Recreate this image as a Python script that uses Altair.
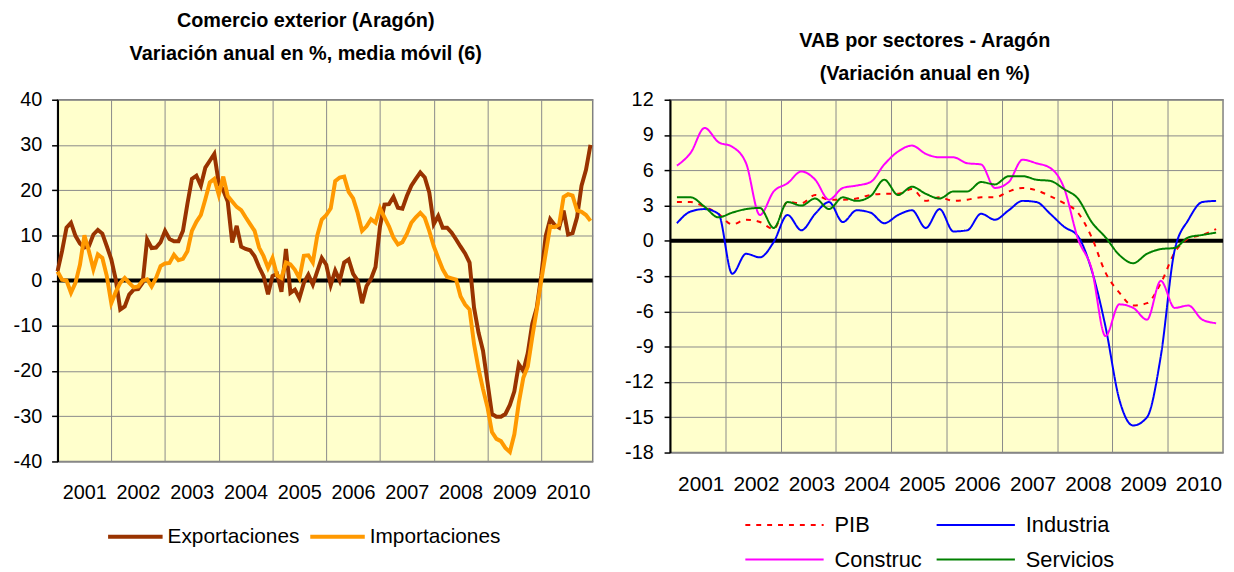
import altair as alt
import pandas as pd

# ---------------- Left chart: monthly foreign trade ----------------
exportaciones = [
    2.1, 6.5, 11.7, 12.8, 9.9, 8.2, 7.3, 7.6, 10.2, 11.2, 10.4, 7.6,
    4.7, 0.2, -6.4, -5.7, -3.1, -2.0, -1.9, -0.5, 9.1, 7.2, 7.3, 8.5,
    11.0, 9.2, 8.7, 8.7, 11.0, 17.0, 22.5, 23.2, 21.0, 25.0, 26.5, 28.0,
    21.5, 20.0, 17.5, 8.4, 12.1, 7.5, 7.0, 6.7, 5.4, 3.0, 1.0, -3.0,
    1.0, 1.5, -2.5, 7.0, -2.7, -2.0, -3.9, -0.5, 1.3, -0.9, 2.1, 5.0,
    3.5, -1.0, 2.2, 0.0, 4.0, 4.7, 1.5, 0.0, -5.0, -1.2, 0.4, 3.0,
    12.0, 16.8, 16.9, 18.5, 16.1, 15.9, 18.7, 21.0, 22.5, 23.9, 22.8, 19.5,
    12.5, 14.3, 11.7, 11.7, 10.6, 9.1, 7.5, 6.0, 4.0, -6.0, -11.5, -15.5,
    -22.5, -29.5, -30.1, -30.1, -29.5, -27.5, -24.5, -18.5, -20.0, -16.0, -9.5, -6.0,
    1.0, 9.9, 13.6, 12.3, 11.7, 15.5, 10.2, 10.5, 14.0, 21.0, 24.5, 30.0,
]
importaciones = [
    2.0, 0.2, 0.0, -2.7, -0.5, 3.5, 10.0, 6.5, 2.5, 5.8, 5.0, 1.0,
    -5.0, -2.5, -0.5, 0.6, -0.5, -1.5, -1.3, 0.0, 0.3, -1.3, 0.6, 3.2,
    3.8, 3.9, 5.7, 4.5, 4.8, 6.5, 11.0, 13.0, 14.5, 18.0, 21.7, 22.5,
    19.0, 23.0, 18.7, 17.5, 16.3, 15.6, 14.0, 12.5, 11.0, 7.3, 5.4, 2.8,
    5.0, 1.2, 0.6, 4.0, 3.6, 2.4, 0.5, 5.5, 5.6, 4.0, 10.0, 13.5,
    14.5, 16.0, 22.0, 22.8, 23.0, 19.6, 18.2, 15.0, 11.0, 12.0, 13.6, 12.8,
    16.0, 14.0, 12.0, 9.5, 8.0, 8.5, 10.3, 12.8, 14.0, 15.0, 13.9, 11.0,
    7.6, 5.0, 2.5, 0.8, 0.5, 0.2, -3.5, -5.3, -6.4, -14.0, -19.5, -24.0,
    -28.0, -33.5, -35.0, -35.5, -37.0, -37.9, -34.0, -27.0, -21.5, -19.0, -12.5, -6.5,
    0.0, 6.0, 12.0, 11.8, 12.4, 18.5, 19.1, 18.8, 15.5, 15.2, 14.5, 13.2,
]
serie_izq = ["Exportaciones", "Importaciones"]
colores_izq = ["#993300", "#FF9900"]

rows = []
for name, vals in zip(serie_izq, [exportaciones, importaciones]):
    for i, v in enumerate(vals):
        rows.append({"mes": i, "valor": v, "serie": name})
df_left = pd.DataFrame(rows)

# ---------------- Right chart: quarterly GVA ----------------
pib = [3.3, 3.3, 2.9, 2.3, 1.4, 1.8, 1.6, 1.0, 3.3, 3.2, 3.9, 3.5, 3.5, 3.6, 3.9, 4.0, 4.0, 4.4, 3.4,
       3.7, 3.4, 3.5, 3.7, 3.7, 4.2, 4.5, 4.3, 3.8, 3.2, 2.4, 0.3, -2.7, -4.4, -5.5, -5.3, -3.6, -1.0,
       0.2, 0.5, 1.0]
industria = [1.5, 2.5, 2.7, 2.3, -2.8, -1.1, -1.4, -0.1, 2.2, 0.9, 2.3, 3.3, 1.6, 2.6, 2.4, 1.5, 2.2,
             2.6, 1.1, 2.7, 0.8, 0.9, 2.3, 1.8, 2.6, 3.4, 3.3, 2.3, 1.2, 0.4, -2.5, -7.3, -13.5, -15.7,
             -15.0, -9.8, -0.8, 1.8, 3.3, 3.4]
construc = [6.4, 7.5, 9.6, 8.4, 8.0, 6.6, 2.2, 4.2, 4.9, 5.9, 5.2, 3.5, 4.5, 4.7, 5.0, 6.5, 7.6, 8.1,
            7.4, 7.1, 7.1, 6.6, 6.5, 4.5, 5.0, 6.9, 6.6, 6.2, 4.5, 0.2, -2.4, -8.1, -5.4, -5.7, -6.7,
            -3.4, -5.7, -5.5, -6.7, -7.0]
servicios = [3.7, 3.7, 2.9, 2.0, 2.4, 2.7, 2.8, 1.1, 3.3, 3.0, 3.6, 2.7, 3.7, 3.4, 3.8, 5.2, 3.9, 4.6,
             4.0, 3.6, 4.2, 4.2, 5.0, 4.8, 5.5, 5.5, 5.2, 5.1, 4.4, 3.6, 1.6, 0.3, -1.2, -1.9, -1.1,
             -0.7, -0.6, 0.3, 0.5, 0.7]
serie_der = ["PIB", "Industria", "Construc", "Servicios"]
colores_der = ["#FF0000", "#0000FF", "#FF00FF", "#008000"]
dashes_der = [[5, 6], [1, 0], [1, 0], [1, 0]]

rows = []
for name, vals in zip(serie_der, [pib, industria, construc, servicios]):
    for q, v in enumerate(vals):
        rows.append({"trim": q + 0.5, "valor": v, "serie": name})
df_right = pd.DataFrame(rows)

FONT = "Liberation Sans"
GRID = "#8a8a8a"

# ---------------- Left chart ----------------
x_left = alt.X(
    "mes:Q",
    scale=alt.Scale(domain=[0, 119.5], nice=False, zero=False),
    axis=alt.Axis(
        values=list(range(0, 120, 12)),
        labelExpr="datum.value < 119 ? '' + (2001 + datum.value / 12) : ''",
        labelOffset=27, labelPadding=21, labelFontSize=20, ticks=False,
        grid=True, gridColor=GRID, domainColor=GRID, title=None, labelFlush=False,
    ),
)
y_left_axis = alt.Axis(
    values=list(range(-40, 41, 10)), labelExpr="'' + datum.value", grid=True, gridColor=GRID,
    domainColor="black", domainWidth=2, tickColor="black", tickSize=6, tickWidth=1.5,
    labelPadding=10, labelFontSize=20, title=None,
)
zero_left = alt.Chart(pd.DataFrame({"cero": [0]})).mark_rule(color="black", strokeWidth=4).encode(
    y=alt.Y("cero:Q", scale=alt.Scale(domain=[-40, 40], nice=False), axis=y_left_axis)
)
lines_left = alt.Chart(df_left).mark_line(strokeWidth=4).encode(
    x=x_left,
    y=alt.Y("valor:Q", scale=alt.Scale(domain=[-40, 40], nice=False), axis=y_left_axis),
    color=alt.Color(
        "serie:N",
        scale=alt.Scale(domain=serie_izq, range=colores_izq),
        legend=alt.Legend(
            orient="none", legendX=49, legendY=430, direction="horizontal", columns=2,
            symbolType="stroke", symbolSize=3025, symbolStrokeWidth=4, clipHeight=22,
            labelFontSize=21, labelFont=FONT, labelColor="black", labelOffset=3,
            columnPadding=8, title=None,
        ),
    ),
)
left = alt.layer(zero_left, lines_left).properties(
    width=540, height=365,
    title=alt.TitleParams(
        ["Comercio exterior (Aragón)", "Variación anual en %, media móvil (6)"],
        fontSize=20, font=FONT, fontWeight="bold", color="black",
        frame="bounds", anchor="middle", lineHeight=33, offset=26,
    ),
)

# ---------------- Right chart ----------------
x_right = alt.X(
    "trim:Q",
    scale=alt.Scale(domain=[0, 40], nice=False, zero=False),
    axis=alt.Axis(
        values=list(range(0, 40, 4)),
        labelExpr="'' + (2001 + datum.value / 4)",
        labelOffset=31, labelPadding=21, labelFontSize=21, ticks=False,
        grid=True, gridColor=GRID, domainColor=GRID, title=None, labelFlush=False,
    ),
)
y_right_axis = alt.Axis(
    values=list(range(-18, 13, 3)), labelExpr="'' + datum.value", grid=True, gridColor=GRID,
    domainColor="black", domainWidth=2, tickColor="black", tickSize=6, tickWidth=1.5,
    labelPadding=11, labelFontSize=20, title=None,
)
leg_right = alt.Legend(
    orient="none", legendX=75, legendY=418, direction="horizontal", columns=2,
    symbolType="stroke", symbolSize=6241, symbolStrokeWidth=2, clipHeight=22,
    labelFontSize=22, labelFont=FONT, labelColor="black", labelOffset=10,
    columnPadding=13, rowPadding=13, title=None,
)
zero_right = alt.Chart(pd.DataFrame({"cero": [0]})).mark_rule(color="black", strokeWidth=4).encode(
    y=alt.Y("cero:Q", scale=alt.Scale(domain=[-18, 12], nice=False), axis=y_right_axis)
)
lines_right = alt.Chart(df_right).mark_line(strokeWidth=2, interpolate="monotone").encode(
    x=x_right,
    y=alt.Y("valor:Q", scale=alt.Scale(domain=[-18, 12], nice=False), axis=y_right_axis),
    color=alt.Color("serie:N", scale=alt.Scale(domain=serie_der, range=colores_der), legend=leg_right),
    strokeDash=alt.StrokeDash("serie:N", scale=alt.Scale(domain=serie_der, range=dashes_der), legend=leg_right),
)
right = alt.layer(zero_right, lines_right).properties(
    width=558, height=356,
    title=alt.TitleParams(
        ["VAB por sectores - Aragón", "(Variación anual en %)"],
        fontSize=20, font=FONT, fontWeight="bold", color="black",
        frame="bounds", anchor="middle", lineHeight=33, offset=6,
    ),
)

chart = alt.hconcat(left, right, spacing=24).resolve_scale(
    x="independent", y="independent", color="independent", strokeDash="independent"
).resolve_legend(color="independent", strokeDash="independent").properties(
    padding={"left": 4, "top": 0, "right": 0, "bottom": 0},
    background="white",
).configure_view(
    fill="#FFFFCC", stroke="#808080", strokeWidth=1.5,
).configure_axis(
    labelFont=FONT, labelColor="black",
)

chart.save("out.html", embed_options={"renderer": "svg", "actions": False})
